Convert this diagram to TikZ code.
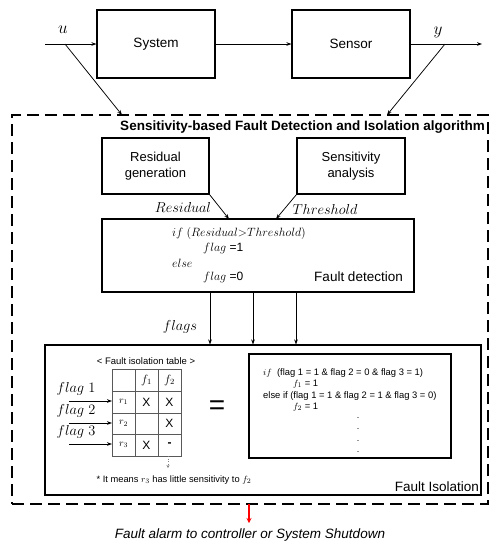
\documentclass[tikz,border=0pt]{standalone}
\usepackage{fontspec}
\setmainfont{Liberation Sans}
\usetikzlibrary{arrows.meta}
\begin{document}
\begin{tikzpicture}[x=1pt,y=-1pt,
  box/.style={draw, line width=1.1pt, inner sep=0pt, align=center},
  arr/.style={-{Stealth[length=5pt,width=3.6pt]}, line width=0.75pt},
  bigdash/.style={draw, line width=1.8pt, dash pattern=on 12pt off 6pt},
  lbl/.style={inner sep=0pt},
  cell/.style={inner sep=0pt}]
\useasboundingbox (0,0) rectangle (499,550);
% top chain
\node[box, minimum width=118pt, minimum height=68pt, font=\fontsize{13.5}{16}\selectfont] (sys) at (156,44) {System};
\node[box, minimum width=118pt, minimum height=68pt, font=\fontsize{13.5}{16}\selectfont] (sen) at (351,44) {Sensor};
\coordinate (in) at (45,44);
\coordinate (ub) at (65,44);
\coordinate (out) at (482,44);
\coordinate (yb) at (445,44);
\coordinate (ut) at (122,115);
\coordinate (yt) at (387,115);
\node[lbl, font=\fontsize{19}{20}\selectfont] (ul) at (63,30) {$u$};
\node[lbl, font=\fontsize{19}{20}\selectfont] (yl) at (438,32) {$y$};
\draw[arr] (in) -- (sys);
\draw[arr] (sys) -- (sen);
\draw[arr] (sen) -- (out);
\draw[arr] (ub) -- (ut);
\draw[arr] (yb) -- (yt);
% dashed algorithm box
\node[bigdash, minimum width=476pt, minimum height=389pt, inner sep=0pt] (alg) at (250,309.5) {};
\node[lbl, anchor=east, font=\fontsize{13.5}{15}\selectfont\bfseries] (algt) at (485,127) {Sensitivity-based Fault Detection and Isolation algorithm};
% residual / sensitivity
\node[box, minimum width=107pt, minimum height=56pt, font=\fontsize{13}{16}\selectfont] (res) at (155.5,166) {Residual\\generation};
\node[box, minimum width=108pt, minimum height=56pt, font=\fontsize{13}{16}\selectfont] (sa) at (351,166) {Sensitivity\\analysis};
\node[box, minimum width=312pt, minimum height=73pt] (fd) at (258,255.5) {};
\coordinate (fdr) at (229,219);
\coordinate (fdt) at (276,219);
\draw[arr] (res.south east) -- (fdr);
\draw[arr] (sa.south west) -- (fdt);
\node[lbl, font=\fontsize{13.5}{15}\selectfont] (resl) at (183,207) {$Residual$};
\node[lbl, font=\fontsize{13.5}{15}\selectfont] (thl) at (325,209) {$Threshold$};
% fault detection text
\node[lbl, anchor=west, font=\fontsize{12}{14}\selectfont] (fd1) at (172,233) {$if\ (Residual{>}Threshold)$};
\node[lbl, anchor=west, font=\fontsize{12}{14}\selectfont] (fd2) at (203,248) {$flag$ =1};
\node[lbl, anchor=west, font=\fontsize{12}{14}\selectfont] (fd3) at (172,263) {$else$};
\node[lbl, anchor=west, font=\fontsize{12}{14}\selectfont] (fd4) at (203,277) {$flag$ =0};
\node[lbl, anchor=east, font=\fontsize{13.5}{15}\selectfont] (fdl) at (403,277) {Fault detection};
% fault isolation box
\node[box, minimum width=436pt, minimum height=150pt] (fi) at (263,420) {};
\draw[arr] (fd.south -| 210,0) -- (fi.north -| 210,0);
\draw[arr] (fd.south -| 253,0) -- (fi.north -| 253,0);
\draw[arr] (fd.south -| 296,0) -- (fi.north -| 296,0);
\node[lbl, font=\fontsize{13.5}{15}\selectfont] (flagsl) at (180,327) {$flags$};
\node[lbl, anchor=east, font=\fontsize{13.5}{15}\selectfont] (fil) at (479,487) {Fault Isolation};
% table
\node[lbl, font=\fontsize{9.5}{11}\selectfont] (tt) at (146,361) {< Fault isolation table >};
\draw[gray!70!black, line width=0.7pt] (112,369) rectangle (181,456);
\foreach \xx in {135,158} \draw[gray!70!black, line width=0.7pt] (\xx,369) -- (\xx,456);
\foreach \yy in {391,413,434} \draw[gray!70!black, line width=0.7pt] (112,\yy) -- (181,\yy);
\node[cell, font=\fontsize{12}{13}\selectfont] (hf1) at (146.5,380) {$f_1$};
\node[cell, font=\fontsize{12}{13}\selectfont] (hf2) at (169.5,380) {$f_2$};
\node[cell, font=\fontsize{10}{11}\selectfont] (r1) at (123.5,402) {$r_1$};
\node[cell, font=\fontsize{10}{11}\selectfont] (r2) at (123.5,423.5) {$r_2$};
\node[cell, font=\fontsize{10}{11}\selectfont] (r3) at (123.5,445) {$r_3$};
\node[cell, font=\fontsize{12}{13}\selectfont] (c11) at (146.5,402) {X};
\node[cell, font=\fontsize{12}{13}\selectfont] (c12) at (169.5,402) {X};
\node[cell, font=\fontsize{12}{13}\selectfont] (c22) at (169.5,423.5) {X};
\node[cell, font=\fontsize{12}{13}\selectfont] (c31) at (146.5,445) {X};
\node[cell, font=\fontsize{12}{13}\selectfont\bfseries] (c32) at (169.5,445) {-};
% flag inputs
\node[lbl, font=\fontsize{14.5}{16}\selectfont] (fl1) at (76,389) {$flag\ 1$};
\node[lbl, font=\fontsize{14.5}{16}\selectfont] (fl2) at (76,411) {$flag\ 2$};
\node[lbl, font=\fontsize{14.5}{16}\selectfont] (fl3) at (76,432) {$flag\ 3$};
\coordinate (a1) at (69,401);
\coordinate (a2) at (69,423);
\coordinate (a3) at (69,444);
\draw[arr] (a1) -- (a1 -| 112,0);
\draw[arr] (a2) -- (a2 -| 112,0);
\draw[arr] (a3) -- (a3 -| 112,0);
% dotted arrow
\coordinate (d0) at (168,456);
\coordinate (d1) at (168,468);
\draw[gray, dotted, line width=0.7pt, -{Stealth[length=3pt,width=3pt]}] (d0) -- (d1);
\node[lbl, font=\fontsize{9.3}{10}\selectfont] (note) at (174,480) {* It means $r_3$ has little sensitivity to $f_2$};
\node[lbl, font=\fontsize{28}{30}\selectfont] (eq) at (217,408) {=};
% inner code box
\node[box, minimum width=202pt, minimum height=104pt] (code) at (350,406) {};
\node[lbl, anchor=west, font=\fontsize{9.4}{10}\selectfont] (c1) at (263,373) {$if$\ \ (flag 1 = 1 \& flag 2 = 0 \& flag 3 = 1)};
\node[lbl, anchor=west, font=\fontsize{9.4}{10}\selectfont] (c2) at (293,384) {$f_1$ = 1};
\node[lbl, anchor=west, font=\fontsize{9.4}{10}\selectfont] (c3) at (263,396) {else if (flag 1 = 1 \& flag 2 = 1 \& flag 3 = 0)};
\node[lbl, anchor=west, font=\fontsize{9.4}{10}\selectfont] (c4) at (293,407) {$f_2$ = 1};
\foreach \yy/\nn in {418/p1,429/p2,441/p3,452/p4} \node[lbl, font=\fontsize{9}{10}\selectfont] (\nn) at (358,\yy) {.};
% red output
\coordinate (ro) at (249,504);
\coordinate (re) at (249,523);
\draw[red, line width=1.4pt, -{Stealth[length=5pt,width=5pt]}] (ro) -- (re);
\node[lbl, font=\fontsize{13.5}{15}\selectfont\itshape] (alarm) at (250,535) {Fault alarm to controller or System Shutdown};
\end{tikzpicture}
\end{document}
